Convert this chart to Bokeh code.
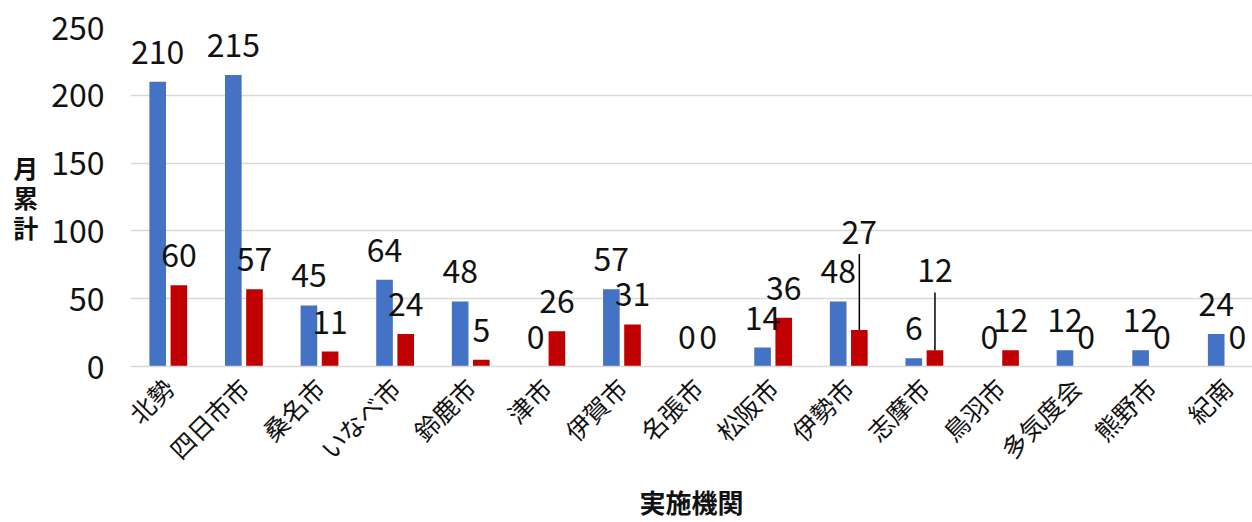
import numpy as np
from bokeh.plotting import figure
from bokeh.models import Range1d, FixedTicker, ColumnDataSource
from bokeh.core.properties import value
from bokeh.embed import file_html
from bokeh.resources import INLINE

# ---- data ----
categories = ["北勢", "四日市市", "桑名市", "いなべ市", "鈴鹿市", "津市", "伊賀市", "名張市",
              "松阪市", "伊勢市", "志摩市", "鳥羽市", "多気度会", "熊野市", "紀南"]
series_blue = [210, 215, 45, 64, 48, 0, 57, 0, 14, 48, 6, 0, 12, 12, 24]
series_red = [60, 57, 11, 24, 5, 26, 31, 0, 36, 27, 12, 12, 0, 0, 0]
y_ticks = [0, 50, 100, 150, 200, 250]
y_title = "月\n累\n計"
x_title = "実施機関"

# ---- style ----
FONT = "Noto Sans CJK JP"
BLUE = "#4472C4"
RED = "#C00000"
GRID = "#d9d9d9"
TXT = "#111111"
W, H = 1252, 522
ML, MR, MT, MB = 130, 0, 27, 155
frame_h = H - MT - MB
YMAX = 250
px_per_unit = frame_h / YMAX
LABEL_LIFT = 30
# label lifts (px) for the red series; two labels are moved up with leader lines
red_lift = [LABEL_LIFT] * len(categories)
red_lift[9] = 98
red_lift[10] = 80
OFFSET = 0.14
BAR_W = 0.22
X_END = 14.34

n = len(categories)
xc = np.arange(n)

p = figure(width=W, height=H, x_range=Range1d(-0.5, X_END), y_range=Range1d(0, YMAX),
           output_backend="svg", toolbar_location=None,
           min_border_left=ML, min_border_right=MR, min_border_top=MT, min_border_bottom=MB)
p.outline_line_color = None
p.background_fill_color = "white"
p.border_fill_color = "white"

p.vbar(x=xc - OFFSET, top=series_blue, width=BAR_W, fill_color=BLUE, line_color=None)
p.vbar(x=xc + OFFSET, top=series_red, width=BAR_W, fill_color=RED, line_color=None)

# leader lines
for i, v in enumerate(series_red):
    if red_lift[i] > LABEL_LIFT:
        p.segment(x0=[xc[i] + OFFSET], y0=[v], x1=[xc[i] + OFFSET],
                  y1=[v + (red_lift[i] - 22) / px_per_unit], line_color="black", line_width=1.5)

src_b = ColumnDataSource(dict(x=xc - OFFSET, y=series_blue, t=[str(v) for v in series_blue],
                              yo=[-LABEL_LIFT] * n))
src_r = ColumnDataSource(dict(x=xc + OFFSET, y=series_red, t=[str(v) for v in series_red],
                              yo=[-l for l in red_lift]))
for src in (src_b, src_r):
    p.text(x="x", y="y", text="t", y_offset="yo", source=src, text_align="center",
           text_baseline="alphabetic", text_font=value(FONT), text_font_size="32px",
           text_color=TXT)

# axes
p.yaxis.ticker = FixedTicker(ticks=y_ticks)
p.yaxis.major_label_text_font = FONT
p.yaxis.major_label_text_font_size = "32px"
p.yaxis.major_label_text_color = TXT
p.yaxis.major_label_standoff = 20
p.yaxis.axis_line_color = None
p.yaxis.major_tick_line_color = None
p.yaxis.minor_tick_line_color = None
p.yaxis.axis_label = y_title
p.yaxis.axis_label_orientation = "horizontal"
p.yaxis.axis_label_text_font = FONT
p.yaxis.axis_label_text_font_size = "25px"
p.yaxis.axis_label_text_font_style = "bold"
p.yaxis.axis_label_text_color = TXT
p.yaxis.axis_label_text_line_height = 0.84
p.yaxis.axis_label_standoff = 10

p.xaxis.ticker = FixedTicker(ticks=list(range(n)))
p.xaxis.major_label_overrides = {int(i): c for i, c in enumerate(categories)}
p.xaxis.major_label_orientation = np.pi / 4
p.xaxis.major_label_text_font = FONT
p.xaxis.major_label_text_font_size = "25px"
p.xaxis.major_label_text_color = TXT
p.xaxis.major_label_standoff = 10
p.xaxis.axis_line_color = GRID
p.xaxis.axis_line_width = 1.5
p.xaxis.major_tick_line_color = None
p.xaxis.minor_tick_line_color = None
p.xaxis.axis_label = x_title
p.xaxis.axis_label_text_font = FONT
p.xaxis.axis_label_text_font_size = "26px"
p.xaxis.axis_label_text_font_style = "bold"
p.xaxis.axis_label_text_color = TXT
p.xaxis.axis_label_text_line_height = 0.8
p.xaxis.axis_label_standoff = 1

p.xgrid.grid_line_color = None
p.ygrid.grid_line_color = GRID
p.ygrid.grid_line_width = 1.5

open("out.html", "w").write(file_html(p, INLINE))
